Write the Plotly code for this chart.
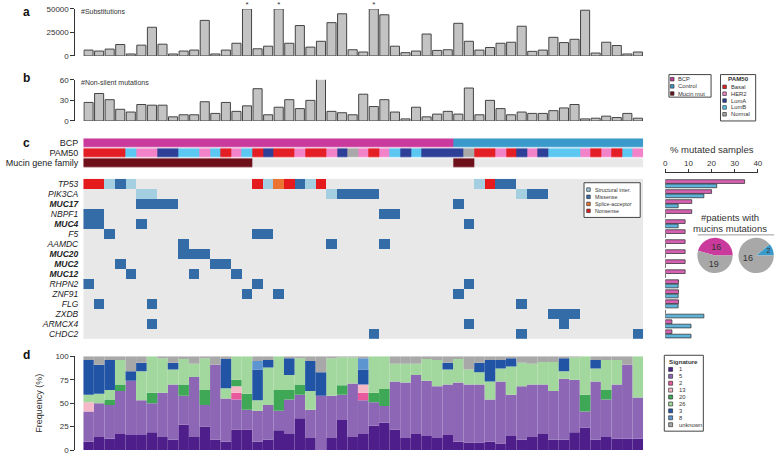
import plotly.graph_objects as go

W, H = 779, 459
FONT = "Liberation Sans, Arial, Helvetica, sans-serif"


def fx(p):
    return p / W


def fy(p):
    return 1 - p / H


# ---------------- data ----------------
N = 53
samples = list(range(N))

substitutions = [6250, 5200, 7300, 12150, 2100, 11500, 30500, 12500, 2100, 5200,
                 6250, 37800, 2100, 6250, 13500, 50000, 7600, 10400, 50000, 13500,
                 32300, 9400, 15600, 35400, 44800, 6600, 4200, 50000, 43750, 10400,
                 3500, 5200, 23300, 5900, 6600, 34700, 15600, 6250, 9000, 13500,
                 14600, 31600, 4900, 6250, 19800, 14200, 17700, 48600, 3100, 14600,
                 11100, 2100, 4200]
capped_samples = [15, 18, 27]

nonsilent = [27, 40, 31, 17, 13, 24, 23, 23, 6, 9, 9, 28, 11, 27, 14, 22, 47, 9, 20, 31,
             18, 30, 67, 14, 12, 9, 39, 21, 31, 13, 3, 20, 6, 10, 14, 10, 48, 9, 30, 18,
             9, 13, 11, 11, 15, 19, 24, 3, 4, 7, 5, 11, 4]

cohort = ["BCP"] * 35 + ["Control"] * 18
pam50 = ["Basal", "Basal", "Basal", "Basal", "LumB", "HER2", "HER2", "LumA", "LumA", "LumB",
         "LumB", "HER2", "LumB", "Basal", "HER2", "LumB", "Basal", "LumA", "Basal", "Basal",
         "HER2", "Basal", "Basal", "HER2", "LumA", "Normal", "HER2", "Basal", "HER2", "LumB",
         "LumA", "LumB", "LumA", "LumA", "LumA", "LumA", "Normal", "Basal", "Basal", "HER2",
         "Basal", "LumA", "HER2", "LumA", "LumB", "LumB", "LumB", "HER2", "Basal", "HER2",
         "Basal", "LumB", "HER2"]
mucin_mut = [1] * 16 + [0] * 19 + [1] * 2 + [0] * 16

genes = ["TP53", "PIK3CA", "MUC17", "NBPF1", "MUC4", "F5", "AAMDC", "MUC20", "MUC2",
         "MUC12", "RHPN2", "ZNF91", "FLG", "ZXDB", "ARMCX4", "CHDC2"]
mucin_genes = ["MUC17", "MUC4", "MUC20", "MUC2", "MUC12"]
mut_types = ["Structural inter.", "Missense", "Splice-acceptor", "Nonsense"]
mutations = {
    "TP53": {"Nonsense": [0, 1, 16, 19, 22, 38], "Structural inter.": [2, 4, 17, 21, 37],
             "Missense": [3, 20, 39, 40], "Splice-acceptor": [18]},
    "PIK3CA": {"Structural inter.": [5, 6, 23, 41], "Missense": [24, 25, 26, 27, 42, 43]},
    "MUC17": {"Missense": [5, 6, 7, 8, 35]},
    "NBPF1": {"Missense": [0, 1, 28, 29]},
    "MUC4": {"Missense": [0, 1, 5, 36]},
    "F5": {"Missense": [2, 16, 17]},
    "AAMDC": {"Missense": [9, 23, 28]},
    "MUC20": {"Missense": [9, 10, 11]},
    "MUC2": {"Missense": [3, 12, 13]},
    "MUC12": {"Missense": [4, 10, 14]},
    "RHPN2": {"Missense": [0, 16, 36]},
    "ZNF91": {"Missense": [15, 18, 35]},
    "FLG": {"Missense": [1, 6, 41]},
    "ZXDB": {"Missense": [44, 45, 46]},
    "ARMCX4": {"Missense": [6, 36, 45]},
    "CHDC2": {"Missense": [27, 41, 52]},
}

signatures = ["1", "5", "2", "13", "20", "26", "3", "8", "unknown"]
sig1 = [9, 14, 12, 17, 16, 16, 19, 14, 11, 27, 14, 25, 11, 9, 22, 22, 9, 11, 21, 17,
        34, 13, 0, 13, 32, 14, 17, 26, 29, 22, 13, 17, 15, 13, 16, 9, 8, 8, 9, 7,
        15, 11, 14, 17, 11, 11, 19, 24, 11, 14, 12, 12, 12]
sig5 = [32, 36, 36, 46, 58, 37, 31, 47, 59, 31, 64, 23, 80, 46, 32, 21, 33, 37, 21, 37,
        25, 30, 58, 45, 27, 57, 36, 25, 18, 51, 59, 63, 59, 55, 54, 63, 62, 62, 45, 66,
        44, 57, 56, 53, 52, 65, 56, 17, 62, 40, 58, 79, 44]
sig2 = [0, 0, 0, 0, 0, 0, 0, 0, 0, 0, 0, 0, 0, 0, 7, 0, 0, 0, 0, 0,
        0, 0, 0, 0, 0, 0, 8, 0, 0, 0, 0, 0, 0, 0, 0, 0, 0, 0, 0, 0,
        0, 0, 0, 0, 0, 0, 0, 0, 0, 0, 0, 0, 0]
sig13 = [10, 0, 0, 0, 0, 0, 0, 0, 0, 0, 0, 0, 0, 0, 7, 0, 0, 0, 0, 0,
         0, 0, 0, 0, 0, 0, 9, 0, 0, 0, 0, 0, 0, 0, 0, 0, 0, 0, 0, 0,
         0, 0, 0, 0, 0, 0, 0, 0, 0, 0, 0, 0, 0]
sig20 = [0, 0, 6, 7, 0, 0, 11, 0, 0, 12, 0, 16, 0, 0, 7, 17, 0, 0, 22, 10,
         11, 0, 0, 0, 10, 0, 0, 10, 18, 0, 0, 0, 0, 0, 0, 0, 0, 0, 0, 0,
         0, 0, 0, 0, 0, 0, 0, 18, 0, 10, 0, 0, 0]
sig26 = [8, 10, 10, 26, 0, 31, 39, 37, 16, 27, 14, 34, 0, 11, 25, 40, 11, 40, 36, 16,
         28, 20, 0, 40, 30, 28, 0, 39, 35, 19, 20, 12, 23, 28, 16, 25, 16, 13, 19, 14,
         30, 25, 22, 24, 31, 8, 24, 41, 14, 32, 26, 0, 44]
sig3 = [37, 31, 32, 0, 10, 9, 0, 0, 7, 0, 0, 0, 0, 31, 0, 0, 33, 8, 0, 18,
        0, 32, 25, 0, 0, 0, 16, 0, 0, 0, 0, 0, 0, 0, 7, 0, 0, 10, 23, 9,
        9, 0, 0, 0, 0, 14, 0, 0, 9, 0, 0, 0, 0]
sig8 = [0, 0, 0, 0, 0, 0, 0, 0, 0, 0, 0, 0, 0, 0, 0, 0, 9, 0, 0, 0,
        0, 0, 0, 0, 0, 0, 12, 0, 0, 0, 0, 0, 0, 0, 0, 0, 0, 0, 0, 0,
        0, 0, 0, 0, 0, 0, 0, 0, 0, 0, 0, 0, 0]
sig_unknown = [4, 9, 4, 4, 16, 7, 0, 2, 7, 3, 8, 2, 9, 3, 0, 0, 5, 4, 0, 2,
               2, 5, 17, 2, 1, 1, 2, 0, 0, 8, 8, 8, 3, 4, 7, 3, 14, 7, 4, 4,
               2, 7, 8, 6, 6, 2, 1, 0, 4, 4, 4, 9, 0]
sig_series = [sig1, sig5, sig2, sig13, sig20, sig26, sig3, sig8, sig_unknown]

# ---------------- styles ----------------
C_BCP, C_CTRL, C_MUC, C_NONE = "#c93a9c", "#3a9acb", "#6e1019", "#e8e8e8"
PAM_COL = {"Basal": "#e31e24", "HER2": "#f283c8", "LumA": "#2e3f98", "LumB": "#5cc8f2",
           "Normal": "#a9a9a9"}
MUT_COL = {"Structural inter.": "#a3cfe0", "Missense": "#336ca6",
           "Splice-acceptor": "#ec7433", "Nonsense": "#e41a1c"}
SIG_COL = {"1": "#4e1f8b", "5": "#8d67b5", "2": "#e8589c", "13": "#f5b8c6",
           "20": "#3fa856", "26": "#a2d79d", "3": "#2254a5", "8": "#5c95cf",
           "unknown": "#a8a8a8"}
TXT = "#333333"


def discrete_scale(colors):
    n = len(colors)
    cs = []
    for i, c in enumerate(colors):
        cs.append([i / n, c])
        cs.append([(i + 1) / n, c])
    return cs


fig = go.Figure()

# ---------------- panel a ----------------
fig.add_trace(go.Bar(x=samples, y=substitutions, xaxis="x", yaxis="y", width=0.86,
                     marker=dict(color="#c3c3c3", line=dict(color="#444444", width=1)),
                     hoverinfo="skip"))
fig.add_trace(go.Scatter(x=capped_samples, y=[substitutions[i] for i in capped_samples],
                         mode="text", text=["*"] * len(capped_samples),
                         textposition="top center", textfont=dict(size=8, color=TXT),
                         xaxis="x", yaxis="y", cliponaxis=False, hoverinfo="skip"))

# ---------------- panel b ----------------
fig.add_trace(go.Bar(x=samples, y=nonsilent, xaxis="x", yaxis="y2", width=0.86,
                     marker=dict(color="#c3c3c3", line=dict(color="#444444", width=1)),
                     hoverinfo="skip"))

# ---------------- panel c: annotation rows ----------------
ann_colors = [C_BCP, C_CTRL, PAM_COL["Basal"], PAM_COL["HER2"], PAM_COL["LumA"],
              PAM_COL["LumB"], PAM_COL["Normal"], C_MUC, C_NONE]
cohort_code = {"BCP": 0, "Control": 1}
pam_code = {"Basal": 2, "HER2": 3, "LumA": 4, "LumB": 5, "Normal": 6}
z_ann = [[cohort_code[c] for c in cohort],
         [pam_code[p] for p in pam50],
         [7 if m else 8 for m in mucin_mut]]
fig.add_trace(go.Heatmap(z=z_ann, x=samples, y=[0, 1, 2], xaxis="x", yaxis="y3",
                         colorscale=discrete_scale(ann_colors), zmin=-0.5,
                         zmax=len(ann_colors) - 0.5, showscale=False, ygap=1.2,
                         hoverinfo="skip"))

# ---------------- panel c: mutation matrix ----------------
type_code = {t: i + 1 for i, t in enumerate(mut_types)}
z_mut = []
for g in genes:
    row = [0] * N
    for t, cols in mutations[g].items():
        for c in cols:
            row[c] = type_code[t]
    z_mut.append(row)
mut_colors = [C_NONE] + [MUT_COL[t] for t in mut_types]
fig.add_trace(go.Heatmap(z=z_mut, x=samples, y=list(range(len(genes))), xaxis="x",
                         yaxis="y4", colorscale=discrete_scale(mut_colors), zmin=-0.5,
                         zmax=len(mut_colors) - 0.5, showscale=False, hoverinfo="skip"))

# ---------------- % mutated samples ----------------
is_bcp = [c == "BCP" for c in cohort]
n_bcp = sum(is_bcp)
n_ctrl = N - n_bcp
pct_bcp, pct_ctrl = [], []
for r in z_mut:
    pct_bcp.append(100 * sum(1 for i, v in enumerate(r) if v and is_bcp[i]) / n_bcp)
    pct_ctrl.append(100 * sum(1 for i, v in enumerate(r) if v and not is_bcp[i]) / n_ctrl)
rows = list(range(len(genes)))
fig.add_trace(go.Bar(y=rows, x=pct_bcp, orientation="h", xaxis="x2", yaxis="y5",
                     width=0.37, offset=-0.41,
                     marker=dict(color="#d660b2", line=dict(color="#3a3a3a", width=0.8)),
                     hoverinfo="skip"))
fig.add_trace(go.Bar(y=rows, x=pct_ctrl, orientation="h", xaxis="x2", yaxis="y5",
                     width=0.37, offset=0.02,
                     marker=dict(color="#5db3d9", line=dict(color="#3a3a3a", width=0.8)),
                     hoverinfo="skip"))

# ---------------- pies ----------------
bcp_mut = sum(m for m, b in zip(mucin_mut, is_bcp) if b)
ctrl_mut = sum(m for m, b in zip(mucin_mut, is_bcp) if not b)


def pie_rotation(first, total):
    # first slice drawn counterclockwise from 3 o'clock (R pie() convention)
    return 90 - 360 * first / total


fig.add_trace(go.Pie(values=[bcp_mut, n_bcp - bcp_mut], labels=["mut", "no"],
                     marker=dict(colors=[C_BCP, "#a8a8a8"]), sort=False,
                     direction="counterclockwise", rotation=pie_rotation(bcp_mut, n_bcp),
                     textinfo="value", textposition="inside",
                     insidetextorientation="horizontal",
                     textfont=dict(size=9, color=TXT),
                     domain=dict(x=[fx(701.5), fx(737.5)], y=[fy(274.5), fy(238.5)]),
                     showlegend=False, hoverinfo="skip"))
fig.add_trace(go.Pie(values=[ctrl_mut, n_ctrl - ctrl_mut], labels=["mut", "no"],
                     marker=dict(colors=[C_CTRL, "#a8a8a8"]), sort=False,
                     direction="counterclockwise", rotation=pie_rotation(ctrl_mut, n_ctrl),
                     textinfo="value", textposition="inside",
                     insidetextorientation="horizontal",
                     textfont=dict(size=9, color=TXT),
                     domain=dict(x=[fx(743), fx(779)], y=[fy(274.5), fy(238.5)]),
                     showlegend=False, hoverinfo="skip"))

# ---------------- panel d ----------------
cum = [0] * N
for s, vals in zip(signatures, sig_series):
    fig.add_trace(go.Bar(x=samples, y=vals, base=list(cum), xaxis="x", yaxis="y6",
                         width=1.0, marker=dict(color=SIG_COL[s], line=dict(width=0)),
                         hoverinfo="skip"))
    cum = [a + b for a, b in zip(cum, vals)]

# ---------------- layout ----------------
tickfont = dict(size=8, color=TXT, family=FONT)
left_axis = dict(anchor="free", position=fx(73), showline=True, linecolor="#333",
                 linewidth=1, ticks="outside", ticklen=4, tickcolor="#333",
                 tickfont=tickfont, showgrid=False, zeroline=False, fixedrange=True)

gene_text = ["<b><i>%s</i></b>" % g if g in mucin_genes else "<i>%s</i>" % g
             for g in genes]

layout = dict(
    width=W, height=H, autosize=False,
    margin=dict(l=0, r=0, t=0, b=0, pad=0),
    paper_bgcolor="white", plot_bgcolor="rgba(0,0,0,0)",
    font=dict(family=FONT, color=TXT),
    showlegend=False, barmode="overlay",
    xaxis=dict(domain=[fx(82), fx(647)], range=[-0.5, N - 0.5], visible=False,
               fixedrange=True),
    yaxis=dict(domain=[fy(53), fy(5)], range=[0, 50000],
               tickvals=[0, 25000, 50000], ticktext=["0", "25000", "50000"], **left_axis),
    yaxis2=dict(domain=[fy(119.3), fy(77.3)], range=[0, 60], tickvals=[0, 30, 60],
                **left_axis),
    yaxis3=dict(domain=[fy(167.5), fy(137)], range=[2.5, -0.5], anchor="x",
                tickvals=[0, 1, 2], ticktext=["BCP", "PAM50", "Mucin gene family"],
                ticks="", showline=False, showgrid=False, zeroline=False,
                ticklabelstandoff=4, tickfont=dict(size=9, color="#222", family=FONT),
                fixedrange=True),
    yaxis4=dict(domain=[fy(341.7), fy(178.3)], range=[len(genes) - 0.5, -0.5],
                anchor="x", tickvals=rows, ticktext=gene_text, ticks="", showline=False,
                showgrid=False, zeroline=False, ticklabelstandoff=4,
                tickfont=dict(size=8.5, color="#222", family=FONT), fixedrange=True),
    xaxis2=dict(domain=[fx(669.3), fx(762.7)], range=[0, 40], side="top",
                anchor="free", position=fy(171.7), tickvals=[0, 10, 20, 30, 40],
                showline=True, linecolor="#333", linewidth=1, ticks="outside",
                ticklen=3, tickcolor="#333", tickfont=tickfont, showgrid=False,
                zeroline=False, fixedrange=True),
    yaxis5=dict(domain=[fy(341.7), fy(178.3)], range=[len(genes) - 0.5, -0.5],
                anchor="x2", visible=False, fixedrange=True),
    yaxis6=dict(domain=[fy(455), fy(359.3)], range=[0, 100],
                tickvals=[0, 25, 50, 75, 100], **left_axis),
)

annotations = []
shapes = []


def txt(x, y, s, size=7, xanchor="left", yanchor="middle", bold=False, angle=0,
        color=TXT):
    annotations.append(dict(x=fx(x), y=fy(y), xref="paper", yref="paper",
                            text="<b>%s</b>" % s if bold else s, showarrow=False,
                            xanchor=xanchor, yanchor=yanchor, textangle=angle,
                            font=dict(size=size, color=color, family=FONT)))


for lab, yy in [("a", 8), ("b", 75), ("c", 142), ("d", 358)]:
    txt(19, yy, lab, size=12, bold=True, color="#111")
txt(78, 7.5, "#Substitutions", size=7)
txt(78, 80, "#Non-silent mutations", size=7)
txt(716, 148, "% mutated samples", size=9.5, xanchor="center")
txt(735, 218, "#patients with", size=9.5, xanchor="center")
txt(735, 229, "mucins mutations", size=9.5, xanchor="center")
txt(37, 407, "Frequency (%)", size=9, xanchor="center", angle=-90)
shapes.append(dict(type="line", xref="paper", yref="paper", x0=fx(702), x1=fx(779),
                   y0=fy(235.5), y1=fy(235.5), line=dict(color="#9a9a9a", width=1)))


def legend_box(x0, y0, x1, y1, title, title_y, items, sw_x, tx_x, sw=3.6, size=5.8):
    shapes.append(dict(type="rect", xref="paper", yref="paper", x0=fx(x0), x1=fx(x1),
                       y0=fy(y1), y1=fy(y0), line=dict(color="#444", width=1),
                       fillcolor="white"))
    if title:
        txt((x0 + x1) / 2, title_y, title, size=size + 0.4, xanchor="center", bold=True)
    for label, color, yy in items:
        shapes.append(dict(type="rect", xref="paper", yref="paper", x0=fx(sw_x),
                           x1=fx(sw_x + sw), y0=fy(yy + sw / 2), y1=fy(yy - sw / 2),
                           fillcolor=color, line=dict(color="#333", width=0.7)))
        txt(tx_x, yy, label, size=size)


legend_box(673, 72, 715.5, 95, None, 0,
           [("BCP", C_BCP, 76.7), ("Control", C_CTRL, 84), ("Mucin mut", C_MUC, 91.3)],
           674.5, 680.5)
legend_box(725, 72, 760.5, 119.3, "PAM50", 76.5,
           [(k, PAM_COL[k], yy) for k, yy in zip(["Basal", "HER2", "LumA", "LumB", "Normal"],
                                                   [84.5, 91.5, 98.5, 105.5, 112.5])],
           727.3, 733.3)
legend_box(587.3, 182.3, 644, 217.7, None, 0,
           [(t, MUT_COL[t], yy) for t, yy in zip(mut_types, [189.3, 196.7, 203.9, 211])],
           590, 596, size=5.3)
legend_box(668.3, 358.3, 707.7, 435.7, "Signature", 364.5,
           [(s, SIG_COL[s], 372.7 + 7.05 * i) for i, s in enumerate(signatures)],
           672.7, 681, sw=4)

layout["annotations"] = annotations
layout["shapes"] = shapes
fig.update_layout(**layout)

fig.write_html("out.html", config=dict(displayModeBar=False, staticPlot=True),
               post_script="document.body.style.margin='0px';"
                           "document.body.style.overflow='hidden';")
